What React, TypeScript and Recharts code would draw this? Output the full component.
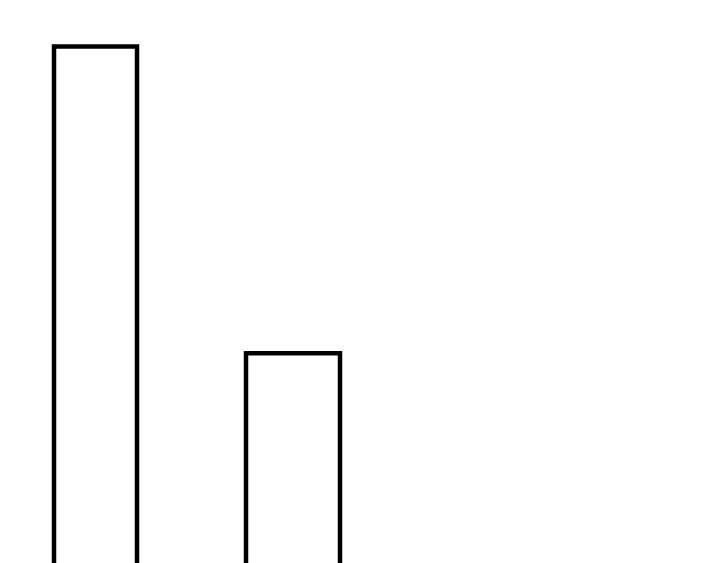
import { BarChart, Bar, XAxis, YAxis } from 'recharts'

const categories = ['A', 'B']
const firstValues = [10, null]
const secondValues = [null, 5]

const data = categories.map((name, i) => ({
  name,
  first: firstValues[i],
  second: secondValues[i],
}))

export default function App() {
  return (
    <div style={{ position: 'absolute', top: 0, left: 0, width: 720, height: 563, overflow: 'hidden', background: '#fff' }}>
      <BarChart
        width={720}
        height={660}
        data={data}
        margin={{ top: 46.5, right: 329, bottom: 0, left: -3 }}
        barCategoryGap={0}
      >
        <XAxis xAxisId="a" dataKey="name" hide />
        <XAxis xAxisId="b" dataKey="name" hide />
        <YAxis hide domain={[0, 10]} />
        <Bar
          xAxisId="a"
          dataKey="first"
          barSize={83}
          fill="#fff"
          stroke="#000"
          strokeWidth={4.5}
          isAnimationActive={false}
        />
        <Bar
          xAxisId="b"
          dataKey="second"
          barSize={94}
          fill="#fff"
          stroke="#000"
          strokeWidth={4.5}
          isAnimationActive={false}
        />
      </BarChart>
    </div>
  )
}
